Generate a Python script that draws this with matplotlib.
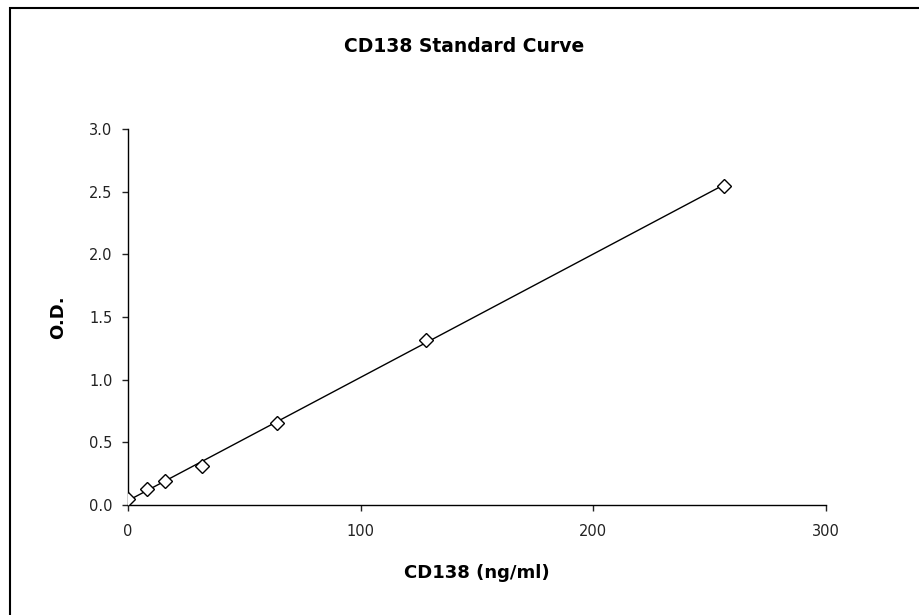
import matplotlib.pyplot as plt
import numpy as np
from matplotlib.patches import Rectangle

# CD138 standard curve data
concentration = [0, 8, 16, 32, 64, 128, 256]  # ng/ml
odValues = [0.05, 0.13, 0.19, 0.31, 0.65, 1.32, 2.55]
xTicks = [0, 100, 200, 300]
yTicks = [0.0, 0.5, 1.0, 1.5, 2.0, 2.5, 3.0]

plt.rcParams['font.family'] = ['DejaVu Sans']

fig = plt.figure(figsize=(9.2, 6.15), dpi=100)
ax = fig.add_axes([0.139, 0.179, 0.759, 0.611])

# linear trendline across the standards
slope, intercept = np.polyfit(concentration, odValues, 1)
xFit = np.array([concentration[0], concentration[-1]])
ax.plot(xFit, slope * xFit + intercept, color='black', linewidth=1, zorder=2)
ax.plot(concentration, odValues, linestyle='none', marker='D', markersize=7.5,
        markerfacecolor='white', markeredgecolor='black', markeredgewidth=1, zorder=3)

ax.set_xlim(0, 300)
ax.set_ylim(0, 3.0)
ax.set_xticks(xTicks)
ax.set_yticks(yTicks)
ax.set_yticklabels([f'{v:.1f}' for v in yTicks])
ax.tick_params(direction='out', length=4, width=1, labelsize=10.5, colors='#222222')
ax.tick_params(axis='x', pad=10)
ax.tick_params(axis='y', pad=7)
for side in ['top', 'right']:
    ax.spines[side].set_visible(False)
for side in ['left', 'bottom']:
    ax.spines[side].set_linewidth(1)

ax.set_xlabel('CD138 (ng/ml)', fontsize=13, fontweight='bold', labelpad=18)
ax.set_ylabel('O.D.', fontsize=13, fontweight='bold', labelpad=16)
fig.text(0.505, 0.924, 'CD138 Standard Curve', ha='center', va='center',
         fontsize=13.5, fontweight='bold')

# outer chart border (only left and top edges visible in the crop)
fig.patches.append(Rectangle((0.0105, -0.1), 1.2, 1.087, transform=fig.transFigure,
                             fill=False, edgecolor='black', linewidth=1.5))

fig.savefig('out.png', dpi=100)
